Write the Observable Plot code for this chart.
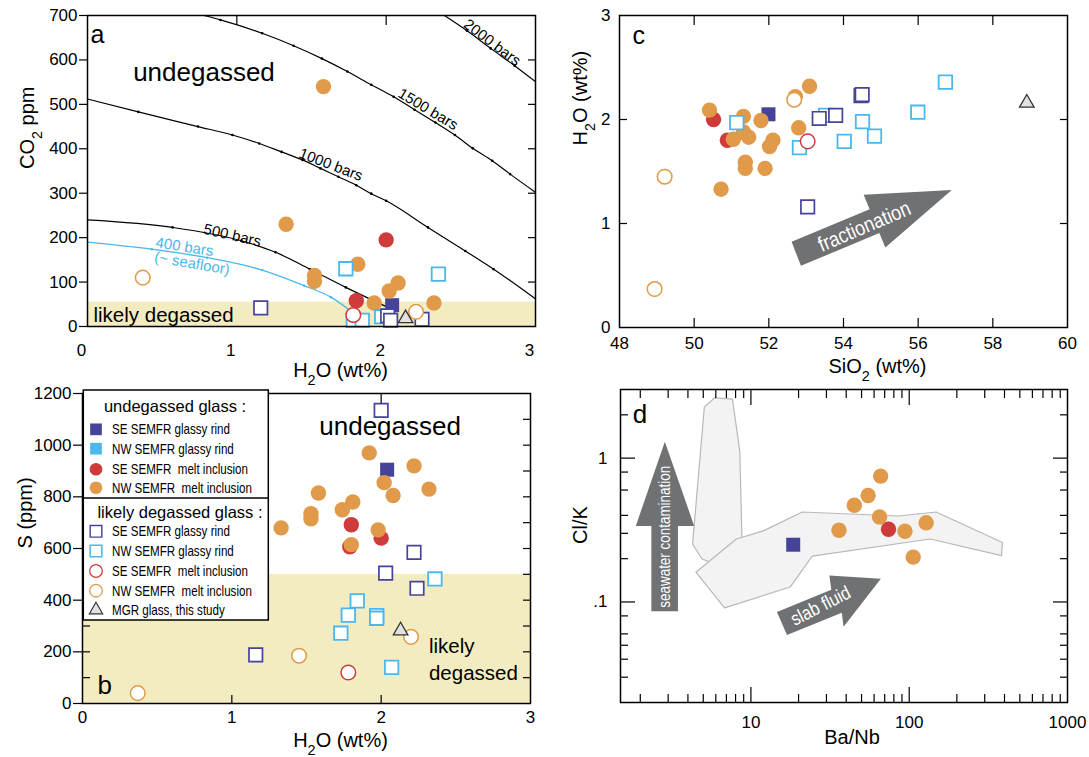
<!DOCTYPE html>
<html><head><meta charset="utf-8">
<script src="https://cdn.jsdelivr.net/npm/d3@7"></script>
<script src="https://cdn.jsdelivr.net/npm/@observablehq/plot@0.6"></script>
<style>
body{margin:0;background:#fff;font-family:'Liberation Sans',Arial,sans-serif}
#root{position:relative;width:1089px;height:757px;overflow:hidden;background:#fff}
.panel{position:absolute}
</style></head><body><div id="root"></div>
<script>
// ---------- colours ----------
const C = {seRind:"#45439a", nwRind:"#4ab8ec", seMI:"#cf3b3b", nwMI:"#e09a4a", zone:"#f3ecc0", mgr:"#e2e2e2", arrow:"#707173"};
const FONT = "'Liberation Sans', Arial, Helvetica, sans-serif";
const TICKFS = 17, TITLEFS = 20;

// ---------- panel a : H2O (wt%) vs CO2 (ppm) ----------
const aXTicks = [0, 1, 2, 3];
const aYTicks = [0, 100, 200, 300, 400, 500, 600, 700];
const aDegassedCO2 = 55;
const aSERindUndeg = [[2.04, 48]];
const aSEMIUndeg = [[2.00, 195], [1.80, 58]];
const aNWMIUndeg = [[1.58, 540], [1.33, 230], [1.81, 140], [1.52, 115], [1.52, 102], [2.08, 98], [2.02, 80], [1.92, 53], [2.32, 53]];
const aSERindDeg = [[1.16, 42], [2.01, 24], [2.03, 14], [2.24, 16]];
const aNWRindDeg = [[1.73, 130], [2.35, 118], [1.78, 14], [1.84, 14], [1.97, 22]];
const aSEMIDeg = [[1.78, 26]];
const aNWMIDeg = [[0.37, 110], [2.20, 33]];
const aMGR = [[2.13, 18]];
const iso2000 = [[2.39, 700], [2.54, 666], [2.70, 626], [2.86, 587], [3.0, 551]];
const iso1500 = [[0.78, 700], [0.89, 690], [1.17, 660], [1.38, 632], [1.57, 603], [1.74, 574], [1.90, 544], [2.05, 517], [2.19, 488], [2.33, 459], [2.46, 431], [2.58, 401], [2.71, 373], [2.83, 343], [3.0, 302]];
const iso1000 = [[0, 512], [0.34, 483], [0.74, 450], [0.97, 431], [1.15, 412], [1.30, 393], [1.44, 375], [1.56, 356], [1.68, 337], [1.80, 318], [1.90, 299], [2.00, 283], [2.28, 223], [2.53, 170], [2.72, 129], [3.0, 62]];
const iso500 = [[0, 240], [0.57, 223], [1.03, 193], [1.26, 167], [1.49, 129], [1.73, 88], [2.03, 40]];
const iso400 = [[0, 190], [0.43, 174], [0.80, 155], [1.17, 127], [1.45, 92], [1.63, 66], [1.77, 33]];
const aIsoLabels = [
  {t: "2000 bars", x: 2.71, y: 639, r: 37},
  {t: "1500 bars", x: 2.28, y: 489, r: 31},
  {t: "1000 bars", x: 1.63, y: 364, r: 21},
  {t: "500 bars", x: 0.97, y: 205, r: 13}
];
const aSeafloorLabels = [
  {t: "400 bars", x: 0.65, y: 179, r: 9},
  {t: "(~ seafloor)", x: 0.70, y: 142, r: 10}
];

// ---------- panel b : H2O (wt%) vs S (ppm) ----------
const bXTicks = [0, 1, 2, 3];
const bYTicks = [0, 200, 400, 600, 800, 1000, 1200];
const bYMinor = [100, 200, 300, 400, 500, 600, 700, 800, 900, 1000, 1100];
const bDegassedS = 500;
const bSERindUndeg = [[2.04, 905]];
const bSEMIUndeg = [[1.80, 692], [2.00, 640], [1.79, 607]];
const bNWMIUndeg = [[1.92, 970], [2.22, 920], [2.02, 855], [2.32, 830], [1.58, 815], [2.08, 805], [1.81, 780], [1.74, 750], [1.53, 735], [1.53, 715], [1.33, 680], [1.98, 672], [1.80, 615]];
const bSERindDeg = [[2.00, 1135], [2.22, 585], [2.03, 505], [2.24, 446], [1.16, 188]];
const bNWRindDeg = [[2.36, 482], [1.84, 397], [1.78, 342], [1.97, 340], [1.97, 330], [1.73, 272], [2.07, 140]];
const bSEMIDeg = [[1.78, 120]];
const bNWMIDeg = [[2.20, 258], [1.45, 185], [0.37, 40]];
const bMGR = [[2.13, 282]];

// ---------- panel c : SiO2 vs H2O ----------
const cXTicks = [48, 50, 52, 54, 56, 58, 60];
const cYTicks = [0, 1, 2, 3];
const cSERindUndeg = [[51.99, 2.05]];
const cSEMIUndeg = [[50.52, 2.00], [50.89, 1.80]];
const cNWMIUndeg = [[50.41, 2.09], [51.32, 2.03], [51.79, 1.99], [51.05, 1.81], [51.32, 1.88], [51.46, 1.83], [52.11, 1.80], [52.02, 1.74], [51.37, 1.59], [51.37, 1.53], [51.90, 1.53], [50.72, 1.33], [52.71, 2.22], [53.09, 2.32], [52.80, 1.92]];
const cSERindDeg = [[53.35, 2.01], [53.79, 2.04], [54.47, 2.23], [54.50, 2.24], [53.04, 1.16]];
const cNWRindDeg = [[51.14, 1.97], [52.82, 1.73], [53.52, 2.04], [54.51, 1.98], [54.83, 1.84], [54.02, 1.79], [55.99, 2.07], [56.73, 2.36]];
const cSEMIDeg = [[53.04, 1.79]];
const cNWMIDeg = [[52.68, 2.19], [49.21, 1.45], [48.94, 0.37]];
const cMGR = [[58.91, 2.16]];
const cFractionArrow = [[52.61, 0.824], [54.70, 1.137], [54.54, 1.276], [56.90, 1.321], [55.12, 0.769], [54.96, 0.908], [52.86, 0.593]];

// ---------- panel d : Ba/Nb vs Cl/K ----------
const dXLabels = [10, 100, 1000];
const dXMajor = [10, 100];
const dXMinor = [2, 3, 4, 5, 6, 7, 8, 9, 20, 30, 40, 50, 60, 70, 80, 90, 200, 300, 400, 500, 600, 700, 800, 900];
const dYLabels = [0.1, 1];
const dYMinor = [0.03, 0.04, 0.05, 0.06, 0.08, 0.2, 0.3, 0.4, 0.6, 0.8, 2];
const dSERind = [[18.5, 0.25]];
const dSEMI = [[74, 0.32]];
const dNWMI = [[66, 0.75], [55, 0.55], [45, 0.47], [65, 0.39], [128, 0.355], [94, 0.31], [36, 0.315], [106, 0.205]];
const dFieldV = [[5.08, 2.27], [5.89, 2.62], [7.64, 2.57], [8.51, 1.11], [8.80, 0.239], [5.89, 0.184], [4.91, 0.199], [4.28, 0.253]];
const dFieldH = [[4.49, 0.161], [8.09, 0.274], [11.99, 0.312], [21.1, 0.422], [85.5, 0.396], [148, 0.422], [388, 0.259], [383, 0.210], [136, 0.274], [24.4, 0.208], [17.7, 0.127], [6.82, 0.091]];
const dSeawaterArrow = [[2.35, 0.0863], [2.35, 0.338], [1.874, 0.338], [2.86, 1.30], [4.38, 0.338], [3.46, 0.338], [3.46, 0.0863]];
const dSlabArrow = [[14.6, 0.0853], [32.2, 0.1218], [31.3, 0.153], [66.2, 0.145], [38.5, 0.0672], [37.5, 0.0842], [16.9, 0.0589]];

// ---------- marker styles ----------
const STY = {
  seRindF: {symbol: "square", fill: C.seRind, r: 7.9},
  nwRindF: {symbol: "square", fill: C.nwRind, r: 7.9},
  seMIF: {symbol: "circle", fill: C.seMI, r: 7.7},
  nwMIF: {symbol: "circle", fill: C.nwMI, r: 7.7},
  seRindO: {symbol: "square", fill: "white", stroke: C.seRind, strokeWidth: 1.7, r: 7.6},
  nwRindO: {symbol: "square", fill: "white", stroke: C.nwRind, strokeWidth: 1.8, r: 7.6},
  seMIO: {symbol: "circle", fill: "white", stroke: C.seMI, strokeWidth: 1.5, r: 7.3},
  nwMIO: {symbol: "circle", fill: "white", stroke: C.nwMI, strokeWidth: 1.5, r: 7.3},
  mgr: {symbol: "triangle", fill: C.mgr, stroke: "#333", strokeWidth: 1.3, r: 5.4}
};
const px = d => d[0], py = d => d[1];
function dots(data, key) { return Plot.dot(data, {x: px, y: py, ...STY[key]}); }
const blank = () => "";
const plain = d => String(d);
const STYLE = {fontFamily: FONT, fontSize: "16px", background: "transparent", overflow: "visible", color: "black"};

const root = document.getElementById("root");
function place(el, left, top) {
  const d = document.createElement("div");
  d.className = "panel"; d.style.left = left + "px"; d.style.top = top + "px";
  d.appendChild(el); root.appendChild(d); return el;
}

// ---------- panel a ----------
const onCurve = d => d[0] > 0 && d[0] < 3 && d[1] < 700;
const figA = Plot.plot({
  width: 545, height: 380, marginLeft: 87, marginRight: 10, marginTop: 15, marginBottom: 54,
  x: {domain: [aXTicks[0], aXTicks[aXTicks.length - 1]]},
  y: {domain: [aYTicks[0], aYTicks[aYTicks.length - 1]]},
  style: STYLE,
  marks: [
    Plot.rect([aDegassedCO2], {x1: () => 0, x2: () => 3, y1: () => 0, y2: d => d, fill: C.zone}),
    ...[iso2000, iso1500, iso1000, iso500].map(c => Plot.line(c, {x: px, y: py, stroke: "black", strokeWidth: 1.2, curve: "monotone-x", clip: true})),
    ...[iso2000, iso1500, iso1000, iso500].map(c => Plot.dot(c.filter(onCurve), {x: px, y: py, r: 1.3, fill: "black"})),
    Plot.line(iso400, {x: px, y: py, stroke: C.nwRind, strokeWidth: 1.3, curve: "monotone-x"}),
    Plot.dot(iso400.filter(onCurve), {x: px, y: py, r: 1.2, fill: C.nwRind}),
    Plot.text(aIsoLabels, {x: "x", y: "y", text: "t", rotate: "r", fontSize: 15, fill: "black"}),
    Plot.text(aSeafloorLabels, {x: "x", y: "y", text: "t", rotate: "r", fontSize: 15, fill: C.nwRind}),
    Plot.text(["a"], {x: () => 0.02, y: () => 655, textAnchor: "start", fontSize: 25}),
    Plot.text(["undegassed"], {x: () => 0.78, y: () => 572, fontSize: 26}),
    Plot.text(["likely degassed"], {x: () => 0.04, y: () => 24, textAnchor: "start", fontSize: 20.5}),
    dots(aSERindUndeg, "seRindF"), dots(aSEMIUndeg, "seMIF"), dots(aNWMIUndeg, "nwMIF"),
    dots(aNWRindDeg, "nwRindO"), dots(aSERindDeg, "seRindO"), dots(aSEMIDeg, "seMIO"), dots(aNWMIDeg, "nwMIO"), dots(aMGR, "mgr"),
    Plot.axisY({ticks: aYTicks, tickSize: 8, tickPadding: 2, label: null, fontSize: TICKFS, strokeWidth: 1.2, tickFormat: plain}),
    Plot.axisY({anchor: "right", ticks: aYTicks.slice(1, -1), tickSize: -8, tickFormat: blank, label: null, strokeWidth: 1.2}),
    Plot.axisX({ticks: aXTicks, tickSize: 0, tickPadding: 17, label: null, fontSize: TICKFS, dx: -6, tickFormat: plain}),
    Plot.axisX({anchor: "top", ticks: aXTicks.slice(1, -1), tickSize: -9, tickFormat: blank, label: null, strokeWidth: 1.2}),
    Plot.frame({stroke: "black", strokeWidth: 1.5}),
    Plot.text(["H₂O (wt%)"], {frameAnchor: "bottom", dx: 29, dy: 50, fontSize: TITLEFS}),
    Plot.text(["CO₂ ppm"], {frameAnchor: "left", dx: -60, dy: -2, rotate: -90, fontSize: TITLEFS})
  ]
});
place(figA, 0, 0);

// ---------- panel b ----------
const figB = Plot.plot({
  width: 545, height: 377, marginLeft: 82, marginRight: 15, marginTop: 13, marginBottom: 54,
  x: {domain: [bXTicks[0], bXTicks[bXTicks.length - 1]]},
  y: {domain: [bYTicks[0], bYTicks[bYTicks.length - 1]]},
  style: STYLE,
  marks: [
    Plot.rect([bDegassedS], {x1: () => 0, x2: () => 3, y1: () => 0, y2: d => d, fill: C.zone}),
    Plot.text(["undegassed"], {x: () => 2.06, y: () => 1071, fontSize: 26}),
    Plot.text(["likely"], {x: () => 2.32, y: () => 220, textAnchor: "start", fontSize: 20.5}),
    Plot.text(["degassed"], {x: () => 2.32, y: () => 116, textAnchor: "start", fontSize: 20.5}),
    Plot.text(["b"], {x: () => 0.10, y: () => 68, textAnchor: "start", fontSize: 26}),
    dots(bSERindUndeg, "seRindF"), dots(bSEMIUndeg, "seMIF"), dots(bNWMIUndeg, "nwMIF"),
    dots(bNWRindDeg, "nwRindO"), dots(bSERindDeg, "seRindO"), dots(bSEMIDeg, "seMIO"), dots(bNWMIDeg, "nwMIO"), dots(bMGR, "mgr"),
    Plot.axisY({ticks: bYTicks, tickSize: 9, tickPadding: 2, label: null, fontSize: TICKFS, strokeWidth: 1.2, tickFormat: plain}),
    Plot.axisY({ticks: bYMinor, tickSize: -8, tickFormat: blank, label: null, strokeWidth: 1.2}),
    Plot.axisY({anchor: "right", ticks: bYMinor, tickSize: -8, tickFormat: blank, label: null, strokeWidth: 1.2}),
    Plot.axisX({ticks: bXTicks, tickSize: 0, tickPadding: 7, label: null, fontSize: TICKFS, tickFormat: plain}),
    Plot.axisX({ticks: bXTicks.slice(1, -1), tickSize: -8, tickFormat: blank, label: null, strokeWidth: 1.2}),
    Plot.axisX({anchor: "top", ticks: bXTicks.slice(1, -1), tickSize: -9, tickFormat: blank, label: null, strokeWidth: 1.2}),
    Plot.frame({stroke: "black", strokeWidth: 1.5}),
    Plot.text(["H₂O (wt%)"], {frameAnchor: "bottom", dx: 34, dy: 43, fontSize: TITLEFS}),
    Plot.text(["S (ppm)"], {frameAnchor: "left", dx: -57, dy: 0, rotate: -90, fontSize: TITLEFS})
  ]
});
place(figB, 0, 380);

// ---------- panel c ----------
const figC = Plot.plot({
  width: 544, height: 380, marginLeft: 74, marginRight: 22, marginTop: 15, marginBottom: 53,
  x: {domain: [cXTicks[0], cXTicks[cXTicks.length - 1]]},
  y: {domain: [cYTicks[0], cYTicks[cYTicks.length - 1]]},
  style: STYLE,
  marks: [
    Plot.line(cFractionArrow, {x: px, y: py, fill: C.arrow, stroke: "none", curve: "linear-closed"}),
    Plot.text(["fractionation"], {x: () => 54.56, y: () => 0.97, rotate: -23, fontSize: 21, fill: "white"}),
    Plot.text(["c"], {x: () => 48.35, y: () => 2.80, textAnchor: "start", fontSize: 25}),
    dots(cSERindUndeg, "seRindF"), dots(cSEMIUndeg, "seMIF"), dots(cNWMIUndeg, "nwMIF"),
    dots(cNWRindDeg, "nwRindO"), dots(cSERindDeg, "seRindO"), dots(cSEMIDeg, "seMIO"), dots(cNWMIDeg, "nwMIO"), dots(cMGR, "mgr"),
    Plot.axisY({ticks: cYTicks, tickSize: 0, tickPadding: 9, label: null, fontSize: TICKFS, tickFormat: plain}),
    Plot.axisY({ticks: cYTicks.slice(1, -1), tickSize: -8, tickFormat: blank, label: null, strokeWidth: 1.2}),
    Plot.axisY({anchor: "right", ticks: cYTicks.slice(1, -1), tickSize: -8, tickFormat: blank, label: null, strokeWidth: 1.2}),
    Plot.axisX({ticks: cXTicks, tickSize: 0, tickPadding: 9, label: null, fontSize: TICKFS, tickFormat: plain}),
    Plot.axisX({ticks: cXTicks.slice(1, -1), tickSize: -9, tickFormat: blank, label: null, strokeWidth: 1.2}),
    Plot.axisX({anchor: "top", ticks: cXTicks.slice(1, -1), tickSize: -9, tickFormat: blank, label: null, strokeWidth: 1.2}),
    Plot.frame({stroke: "black", strokeWidth: 1.5}),
    Plot.text(["SiO₂ (wt%)"], {frameAnchor: "bottom", dx: 34, dy: 45, fontSize: TITLEFS}),
    Plot.text(["H₂O (wt%)"], {frameAnchor: "left", dx: -39, dy: -26, rotate: -90, fontSize: TITLEFS})
  ]
});
place(figC, 545, 0);

// ---------- panel d ----------
const figD = Plot.plot({
  width: 544, height: 377, marginLeft: 75, marginRight: 22, marginTop: 9, marginBottom: 55,
  x: {type: "log", domain: [1.5, 1000]},
  y: {type: "log", domain: [0.02, 3]},
  style: STYLE,
  marks: [
    Plot.line(dFieldV, {x: px, y: py, fill: "#f3f3f3", stroke: "#b8b8b8", strokeWidth: 1.2, curve: "linear-closed"}),
    Plot.line(dFieldH, {x: px, y: py, fill: "#f3f3f3", stroke: "#b8b8b8", strokeWidth: 1.2, curve: "linear-closed"}),
    Plot.line(dSeawaterArrow, {x: px, y: py, fill: C.arrow, stroke: "none", curve: "linear-closed"}),
    Plot.line(dSlabArrow, {x: px, y: py, fill: C.arrow, stroke: "none", curve: "linear-closed"}),
    Plot.text(["seawater contamination"], {x: () => 2.86, y: () => 0.284, rotate: -90, fontSize: 16, fill: "white"}),
    Plot.text(["slab fluid"], {x: () => 27.6, y: () => 0.0937, rotate: -27, fontSize: 19, fill: "white"}),
    Plot.text(["d"], {x: () => 1.79, y: () => 1.99, textAnchor: "start", fontSize: 26}),
    dots(dSERind, "seRindF"), dots(dSEMI, "seMIF"), dots(dNWMI, "nwMIF"),
    Plot.axisY({ticks: dYLabels, tickSize: 0, tickPadding: 13, label: null, fontSize: TICKFS, tickFormat: d => d3.format("~g")(d).replace(/^0\./, ".")}),
    Plot.axisY({ticks: dYLabels, tickSize: -15, tickFormat: blank, label: null, strokeWidth: 1.2}),
    Plot.axisY({ticks: dYMinor, tickSize: -8, tickFormat: blank, label: null, strokeWidth: 1.2}),
    Plot.axisY({anchor: "right", ticks: dYLabels, tickSize: -15, tickFormat: blank, label: null, strokeWidth: 1.2}),
    Plot.axisY({anchor: "right", ticks: dYMinor, tickSize: -8, tickFormat: blank, label: null, strokeWidth: 1.2}),
    Plot.axisX({ticks: dXLabels, tickSize: 0, tickPadding: 13, label: null, fontSize: TICKFS, tickFormat: plain}),
    Plot.axisX({ticks: dXMajor, tickSize: -15, tickFormat: blank, label: null, strokeWidth: 1.2}),
    Plot.axisX({ticks: dXMinor, tickSize: -8, tickFormat: blank, label: null, strokeWidth: 1.2}),
    Plot.axisX({anchor: "top", ticks: dXMajor, tickSize: -15, tickFormat: blank, label: null, strokeWidth: 1.2}),
    Plot.axisX({anchor: "top", ticks: dXMinor, tickSize: -8, tickFormat: blank, label: null, strokeWidth: 1.2}),
    Plot.frame({stroke: "black", strokeWidth: 1.5}),
    Plot.text(["Ba/Nb"], {frameAnchor: "bottom", dx: 8, dy: 41, fontSize: TITLEFS}),
    Plot.text(["Cl/K"], {frameAnchor: "left", dx: -40, dy: -2, rotate: -90, fontSize: TITLEFS})
  ]
});
place(figD, 545, 380);

// ---------- legend for panel b ----------
const legendUndeg = [["seRindF", "SE SEMFR glassy rind"], ["nwRindF", "NW SEMFR glassy rind"], ["seMIF", "SE SEMFR  melt inclusion"], ["nwMIF", "NW SEMFR  melt inclusion"]];
const legendDeg = [["seRindO", "SE SEMFR glassy rind"], ["nwRindO", "NW SEMFR glassy rind"], ["seMIO", "SE SEMFR  melt inclusion"], ["nwMIO", "NW SEMFR  melt inclusion"], ["mgr", "MGR glass, this study"]];
const lg = d3.create("svg").attr("width", 190).attr("height", 235)
  .style("position", "absolute").style("left", "82px").style("top", "389px").style("overflow", "visible")
  .style("font-family", FONT);
lg.append("rect").attr("x", 1.3).attr("y", 1).attr("width", 185).attr("height", 230).attr("fill", "white").attr("stroke", "black").attr("stroke-width", 1.5);
lg.append("line").attr("x1", 1.3).attr("x2", 186.3).attr("y1", 109).attr("y2", 109).attr("stroke", "black").attr("stroke-width", 1.5);
lg.append("text").attr("x", 93).attr("y", 17).attr("text-anchor", "middle").attr("dominant-baseline", "central").attr("font-size", 16.5).text("undegassed glass :");
lg.append("text").attr("x", 98).attr("y", 122.7).attr("text-anchor", "middle").attr("dominant-baseline", "central").attr("font-size", 16.5).text("likely degassed glass :");
const symMap = {square: d3.symbolSquare, circle: d3.symbolCircle, triangle: d3.symbolTriangle};
function legendRow(key, label, y) {
  const s = STY[key];
  const r = key === "mgr" ? 5 : (s.symbol === "square" ? 6.6 : 6.3);
  lg.append("path").attr("transform", `translate(14,${y})`)
    .attr("d", d3.symbol(symMap[s.symbol], Math.PI * r * r)())
    .attr("fill", s.fill).attr("stroke", s.stroke || "none").attr("stroke-width", s.strokeWidth ? s.strokeWidth * 0.85 : 0);
  lg.append("text").attr("class", "cond").attr("x", 30).attr("y", y).attr("dominant-baseline", "central")
    .attr("font-size", 14.5).style("white-space", "pre").text(label);
}
[40.3, 59.7, 80.3, 98.7].forEach((y, i) => legendRow(legendUndeg[i][0], legendUndeg[i][1], y));
[142.3, 162, 182, 201.7, 221].forEach((y, i) => legendRow(legendDeg[i][0], legendDeg[i][1], y));
root.appendChild(lg.node());

// condensed lettering (the reference uses a narrow face)
lg.selectAll("text.cond").each(function () {
  const L = this.getComputedTextLength();
  this.setAttribute("textLength", (L * 0.8).toFixed(1));
  this.setAttribute("lengthAdjust", "spacingAndGlyphs");
});
function condense(svg, str, factor) {
  d3.select(svg).selectAll("text").each(function () {
    if (this.textContent === str) {
      const L = this.getComputedTextLength();
      this.setAttribute("textLength", (L * factor).toFixed(1));
      this.setAttribute("lengthAdjust", "spacingAndGlyphs");
    }
  });
}
condense(figC, "fractionation", 0.86);
condense(figD, "seawater contamination", 0.84);
condense(figD, "slab fluid", 0.86);

// subscripts in axis titles
const NS = "http://www.w3.org/2000/svg";
[figA, figB, figC, figD].forEach(svg => {
  d3.select(svg).selectAll("text").each(function () {
    const s = this.textContent;
    if (!s.includes("₂") || this.querySelector("tspan")) return;
    const parts = s.split("₂");
    this.textContent = "";
    parts.forEach((p, i) => {
      if (i > 0) {
        const sub = document.createElementNS(NS, "tspan");
        sub.setAttribute("baseline-shift", "sub");
        sub.setAttribute("font-size", "72%");
        sub.textContent = "2";
        this.appendChild(sub);
      }
      const t = document.createElementNS(NS, "tspan");
      t.textContent = p;
      this.appendChild(t);
    });
  });
});
</script>
</body></html>
